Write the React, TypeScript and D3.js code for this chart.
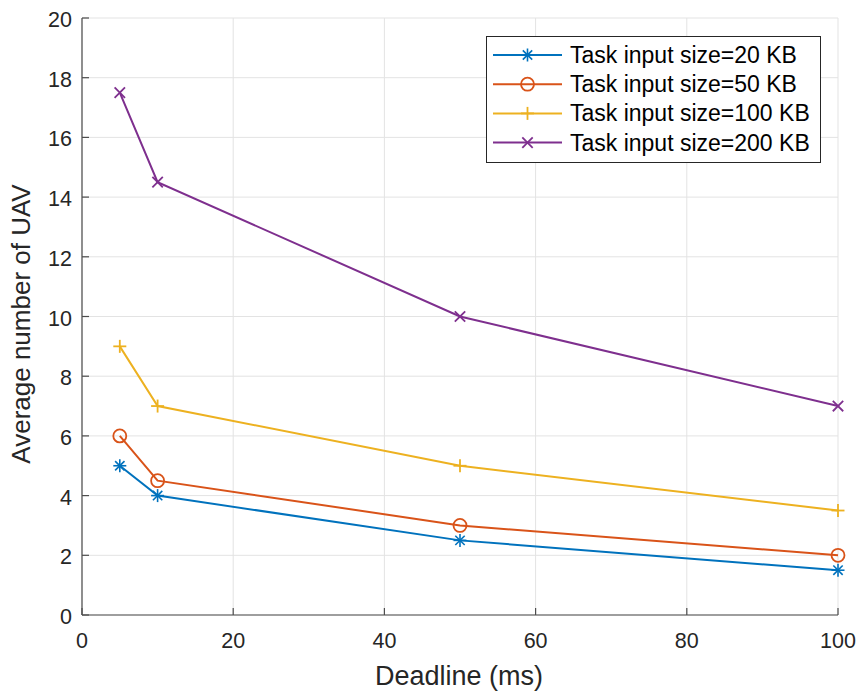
import { scaleLinear, line, range } from "d3";

const width = 861;
const height = 693;
const margin = { top: 18, right: 23, bottom: 78, left: 82 };
const innerWidth = width - margin.left - margin.right;
const innerHeight = height - margin.top - margin.bottom;

const deadlines = [5, 10, 50, 100];
const size20 = [5, 4, 2.5, 1.5];
const size50 = [6, 4.5, 3, 2];
const size100 = [9, 7, 5, 3.5];
const size200 = [17.5, 14.5, 10, 7];

const xTicks = [0, 20, 40, 60, 80, 100];
const yTicks = range(0, 21, 2);

const series = [
  { name: "Task input size=20 KB", values: size20, color: "#0072BD", marker: "star" },
  { name: "Task input size=50 KB", values: size50, color: "#D95319", marker: "circle" },
  { name: "Task input size=100 KB", values: size100, color: "#EDB120", marker: "plus" },
  { name: "Task input size=200 KB", values: size200, color: "#7E2F8E", marker: "cross" },
];

const font = "Helvetica, Arial, 'Liberation Sans', sans-serif";

function Marker({ type, x, y, color }: { type: string; x: number; y: number; color: string }) {
  const r = 6.5;
  if (type === "circle") {
    return <circle cx={x} cy={y} r={r} fill="none" stroke={color} strokeWidth={1.8} />;
  }
  if (type === "plus") {
    return (
      <g stroke={color} strokeWidth={1.8}>
        <line x1={x - r} x2={x + r} y1={y} y2={y} />
        <line x1={x} x2={x} y1={y - r} y2={y + r} />
      </g>
    );
  }
  if (type === "cross") {
    const d = r * 0.8;
    return (
      <g stroke={color} strokeWidth={1.8}>
        <line x1={x - d} x2={x + d} y1={y - d} y2={y + d} />
        <line x1={x - d} x2={x + d} y1={y + d} y2={y - d} />
      </g>
    );
  }
  // star: plus + cross
  const d = r * 0.72;
  return (
    <g stroke={color} strokeWidth={1.6}>
      <line x1={x - r} x2={x + r} y1={y} y2={y} />
      <line x1={x} x2={x} y1={y - r} y2={y + r} />
      <line x1={x - d} x2={x + d} y1={y - d} y2={y + d} />
      <line x1={x - d} x2={x + d} y1={y + d} y2={y - d} />
    </g>
  );
}

export default function App() {
  const xScale = scaleLinear().domain([0, 100]).range([0, innerWidth]);
  const yScale = scaleLinear().domain([0, 20]).range([innerHeight, 0]);

  const lineGen = line<number>()
    .x((_, i) => xScale(deadlines[i]))
    .y((d) => yScale(d));

  const legendX = 486.5 - margin.left;
  const legendY = 36.5 - margin.top;
  const legendW = 334;
  const legendH = 126;
  const rowH = 29.2;

  return (
    <svg
      width={width}
      height={height}
      style={{ position: "absolute", left: 0, top: 0, background: "#fff" }}
      fontFamily={font}
    >
      <g transform={`translate(${margin.left},${margin.top})`}>
        {xTicks.map((t) => (
          <line key={"gx" + t} x1={xScale(t)} x2={xScale(t)} y1={0} y2={innerHeight} stroke="#e3e3e3" strokeWidth={1} />
        ))}
        {yTicks.map((t) => (
          <line key={"gy" + t} x1={0} x2={innerWidth} y1={yScale(t)} y2={yScale(t)} stroke="#e3e3e3" strokeWidth={1} />
        ))}

        <line x1={0} x2={innerWidth} y1={innerHeight} y2={innerHeight} stroke="#4d4d4d" strokeWidth={1.2} />
        <line x1={0} x2={0} y1={0} y2={innerHeight} stroke="#4d4d4d" strokeWidth={1.2} />

        {xTicks.map((t) => (
          <g key={"tx" + t} transform={`translate(${xScale(t)},0)`}>
            <line y1={innerHeight} y2={innerHeight - 7} stroke="#4d4d4d" strokeWidth={1.2} />
            <text y={innerHeight + 33} textAnchor="middle" fontSize={21.5} fill="#262626">
              {t}
            </text>
          </g>
        ))}
        {yTicks.map((t) => (
          <g key={"ty" + t} transform={`translate(0,${yScale(t)})`}>
            <line x1={0} x2={7} stroke="#4d4d4d" strokeWidth={1.2} />
            <text x={-10} y={9} textAnchor="end" fontSize={21.5} fill="#262626">
              {t}
            </text>
          </g>
        ))}

        {series.map((s) => (
          <g key={s.name}>
            <path d={lineGen(s.values) ?? ""} fill="none" stroke={s.color} strokeWidth={2} />
            {s.values.map((v, i) => (
              <Marker key={i} type={s.marker} x={xScale(deadlines[i])} y={yScale(v)} color={s.color} />
            ))}
          </g>
        ))}

        <g transform={`translate(${legendX},${legendY})`}>
          <rect width={legendW} height={legendH} fill="#fff" stroke="#262626" strokeWidth={1} />
          {series.map((s, i) => {
            const y = 18.5 + i * rowH;
            return (
              <g key={s.name} transform={`translate(0,${y})`}>
                <line x1={6.5} x2={75.5} stroke={s.color} strokeWidth={2} />
                <Marker type={s.marker} x={41} y={0} color={s.color} />
                <text x={83.5} y={8} fontSize={23} fill="#000">
                  {s.name}
                </text>
              </g>
            );
          })}
        </g>
      </g>

      <text x={459} y={685} textAnchor="middle" fontSize={27} fill="#262626">
        Deadline (ms)
      </text>
      <text
        transform={`translate(30,324) rotate(-90)`}
        textAnchor="middle"
        fontSize={26}
        fill="#262626"
      >
        Average number of UAV
      </text>
    </svg>
  );
}
